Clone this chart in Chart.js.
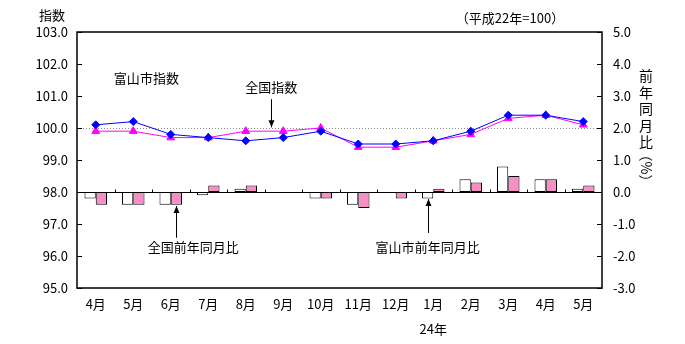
<!DOCTYPE html>
<html>
<head>
<meta charset="utf-8">
<script src="https://cdn.jsdelivr.net/npm/chart.js@4"></script>
<style>
  html, body { margin: 0; padding: 0; background: #fff; }
  #wrap { width: 685px; height: 344px; }
</style>
</head>
<body>
<div id="wrap"><canvas id="cpiChart" width="685" height="344"></canvas></div>
<script>
// months (H23.4 - H24.5)
const months = ['4月', '5月', '6月', '7月', '8月', '9月', '10月', '11月', '12月', '1月', '2月', '3月', '4月', '5月'];

// index (H22 = 100), left axis
const toyamaIndex = [100.1, 100.2, 99.8, 99.7, 99.6, 99.7, 99.9, 99.5, 99.5, 99.6, 99.9, 100.4, 100.4, 100.2];
const zenkokuIndex = [99.9, 99.9, 99.7, 99.7, 99.9, 99.9, 100.0, 99.4, 99.4, 99.6, 99.8, 100.3, 100.4, 100.1];

// year-on-year change (%), right axis
const toyamaYoY = [-0.2, -0.4, -0.4, -0.1, 0.1, 0.0, -0.2, -0.4, 0.0, -0.2, 0.4, 0.8, 0.4, 0.1];
const zenkokuYoY = [-0.4, -0.4, -0.4, 0.2, 0.2, 0.0, -0.2, -0.5, -0.2, 0.1, 0.3, 0.5, 0.4, 0.2];

const FONT = "'Noto Sans CJK JP', 'DejaVu Sans', sans-serif";

// frame, inner ticks, dotted 100 line, zero line, notes and arrows
const decorPlugin = {
  id: 'decor',
  beforeDatasetsDraw(chart) {
    const { ctx, chartArea: a, scales } = chart;
    const yl = scales.y, yr = scales.y1, x = scales.x;
    ctx.save();
    // dotted line at 100
    const y100 = Math.round(yl.getPixelForValue(100)) + 0.5;
    ctx.strokeStyle = '#8c8c8c';
    ctx.lineWidth = 1;
    ctx.setLineDash([1, 2]);
    ctx.beginPath();
    ctx.moveTo(a.left, y100);
    ctx.lineTo(a.right, y100);
    ctx.stroke();
    ctx.setLineDash([]);
    // zero line of the % axis
    const y0 = Math.round(yr.getPixelForValue(0)) + 0.5;
    ctx.strokeStyle = '#000';
    ctx.beginPath();
    ctx.moveTo(a.left, y0);
    ctx.lineTo(a.right, y0);
    for (let i = 1; i < months.length; i++) {
      const bx = Math.round((x.getPixelForValue(i - 1) + x.getPixelForValue(i)) / 2) + 0.5;
      ctx.moveTo(bx, y0);
      ctx.lineTo(bx, y0 - 3);
    }
    ctx.stroke();
    ctx.restore();
  },
  afterDraw(chart) {
    const { ctx, chartArea: a, scales } = chart;
    const yl = scales.y, yr = scales.y1, x = scales.x;
    ctx.save();
    ctx.strokeStyle = '#000';
    ctx.lineWidth = 1.5;
    ctx.strokeRect(a.left, a.top, a.right - a.left, a.bottom - a.top);
    ctx.lineWidth = 1;
    ctx.beginPath();
    yl.ticks.forEach(t => {
      const py = Math.round(yl.getPixelForValue(t.value)) + 0.5;
      ctx.moveTo(a.left, py);
      ctx.lineTo(a.left + 5, py);
    });
    yr.ticks.forEach(t => {
      const py = Math.round(yr.getPixelForValue(t.value)) + 0.5;
      ctx.moveTo(a.right - 5, py);
      ctx.lineTo(a.right, py);
    });
    ctx.stroke();

    ctx.fillStyle = '#000';
    ctx.textBaseline = 'middle';
    ctx.font = '13px ' + FONT;
    ctx.textAlign = 'center';
    ctx.fillText('指数', 52, 15);
    ctx.fillText('（平成22年=100）', 510, 18);
    ctx.fillText('24年', x.getPixelForValue(9), 329);

    // notes
    ctx.fillText('富山市指数', x.getPixelForValue(1.35), yl.getPixelForValue(101.56));
    ctx.fillText('全国指数', x.getPixelForValue(4.68), yl.getPixelForValue(101.28));
    ctx.fillText('全国前年同月比', x.getPixelForValue(2.6), yr.getPixelForValue(-1.72));
    ctx.fillText('富山市前年同月比', x.getPixelForValue(8.85), yr.getPixelForValue(-1.72));

    const arrow = (px, yFrom, yTo) => {
      px = Math.round(px) + 0.5;
      ctx.beginPath();
      ctx.moveTo(px, yFrom);
      ctx.lineTo(px, yTo);
      ctx.stroke();
      const d = yTo > yFrom ? -1 : 1;
      ctx.beginPath();
      ctx.moveTo(px, yTo);
      ctx.lineTo(px - 3, yTo + d * 7);
      ctx.lineTo(px + 3, yTo + d * 7);
      ctx.closePath();
      ctx.fill();
    };
    arrow(x.getPixelForValue(4.68), yl.getPixelForValue(100.9), yl.getPixelForValue(100.02));
    arrow(x.getPixelForValue(2.14), yr.getPixelForValue(-1.43), yr.getPixelForValue(-0.44));
    arrow(x.getPixelForValue(8.85), yr.getPixelForValue(-1.28), yr.getPixelForValue(-0.22));

    // right axis title, stacked
    ctx.font = '14px ' + FONT;
    const tx = 646;
    ['前', '年', '同', '月', '比'].forEach((c, i) => ctx.fillText(c, tx, 76 + i * 16.5));
    ctx.translate(tx, 168);
    ctx.rotate(Math.PI / 2);
    ctx.fillText('（%）', 0, 0);
    ctx.restore();
  }
};

new Chart(document.getElementById('cpiChart'), {
  data: {
    labels: months,
    datasets: [
      {
        type: 'line', label: '富山市指数', data: toyamaIndex, yAxisID: 'y', order: 0,
        borderColor: '#0000ff', backgroundColor: '#0000ff', borderWidth: 1,
        pointStyle: 'rectRot', pointRadius: 4, tension: 0
      },
      {
        type: 'line', label: '全国指数', data: zenkokuIndex, yAxisID: 'y', order: 1,
        borderColor: '#ff00ff', backgroundColor: '#ff00ff', borderWidth: 1,
        pointStyle: 'triangle', pointRadius: 4.5, tension: 0
      },
      {
        type: 'bar', label: '富山市前年同月比', data: toyamaYoY, yAxisID: 'y1', order: 2,
        backgroundColor: '#ffffff', borderColor: '#000', borderWidth: 1, borderSkipped: false,
        categoryPercentage: 0.6, barPercentage: 1.0
      },
      {
        type: 'bar', label: '全国前年同月比', data: zenkokuYoY, yAxisID: 'y1', order: 3,
        backgroundColor: '#f78fc6', borderColor: '#000', borderWidth: 1, borderSkipped: false,
        categoryPercentage: 0.6, barPercentage: 1.0
      }
    ]
  },
  options: {
    responsive: false,
    animation: false,
    layout: { padding: { top: 32, left: 0, right: 0, bottom: 0 } },
    plugins: { legend: { display: false }, tooltip: { enabled: false } },
    scales: {
      x: {
        grid: { display: false, drawTicks: false },
        border: { display: false },
        ticks: { color: '#000', font: { family: FONT, size: 13 }, padding: 8, maxRotation: 0, autoSkip: false },
        afterFit(s) { s.height = 56; }
      },
      y: {
        position: 'left', min: 95, max: 103,
        grid: { display: false, drawTicks: false },
        border: { display: false },
        ticks: { stepSize: 1, color: '#000', font: { family: FONT, size: 13 }, padding: 9,
          callback: v => v.toFixed(1) },
        afterFit(s) { s.width = 77; }
      },
      y1: {
        position: 'right', min: -3, max: 5,
        grid: { display: false, drawTicks: false },
        border: { display: false },
        ticks: { stepSize: 1, color: '#000', font: { family: FONT, size: 13 }, padding: 11,
          callback: v => v.toFixed(1) },
        afterFit(s) { s.width = 83; }
      }
    }
  },
  plugins: [decorPlugin]
});
</script>
</body>
</html>
